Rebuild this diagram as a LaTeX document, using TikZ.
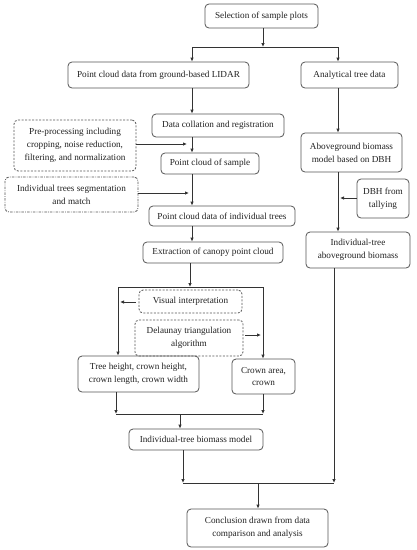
\documentclass[tikz,border=0pt]{standalone}
\usepackage{fontspec}
\setmainfont{Liberation Serif}
\usetikzlibrary{arrows.meta}
\definecolor{linec}{HTML}{333333}
\definecolor{boxc}{HTML}{555555}
\definecolor{txtc}{HTML}{222222}
\begin{document}
\begin{tikzpicture}[x=1pt,y=-1pt,
  box/.style={draw=boxc, line width=0.8pt, rounded corners=4pt, align=center, inner sep=1pt, text=txtc,
    font=\fontsize{9.2}{12.8}\selectfont},
  dbox/.style={box, dash pattern=on 2pt off 1.5pt},
  ddbox/.style={box, dash pattern=on 2.5pt off 1.2pt on 0.8pt off 1.2pt},
  ln/.style={draw=linec, line width=0.8pt},
  arr/.style={ln, -{Latex[length=4pt,width=3.5pt]}}]
\path[fill=white] (0,0) rectangle (416,550);
\useasboundingbox (0,0) rectangle (416,550);

\node[box, minimum width=113pt, minimum height=24pt] (sel) at (261.5,16) {Selection of sample plots};
\node[box, minimum width=181pt, minimum height=26pt] (lidar) at (158.5,75) {Point cloud data from ground-based LIDAR};
\node[box, minimum width=97pt, minimum height=26pt] (anal) at (349.5,75) {Analytical tree data};
\node[box, minimum width=132pt, minimum height=23pt] (coll) at (218,125.5) {Data collation and registration};
\node[dbox, minimum width=122pt, minimum height=51pt] (pre) at (75,145.5) {Pre-processing including\\cropping, noise reduction,\\filtering, and normalization};
\node[box, minimum width=98pt, minimum height=21pt] (pcs) at (210,163.5) {Point cloud of sample};
\node[box, minimum width=101pt, minimum height=39pt] (agb) at (351.5,152.5) {Aboveground biomass\\model based on DBH};
\node[ddbox, minimum width=133pt, minimum height=35pt] (seg) at (71.5,194.5) {Individual trees segmentation\\and match};
\node[box, minimum width=146pt, minimum height=20pt] (pcdi) at (222,216) {Point cloud data of individual trees};
\node[box, minimum width=52pt, minimum height=39pt] (dbh) at (383,198.5) {DBH from\\tallying};
\node[box, minimum width=104pt, minimum height=36pt] (iagb) at (358,250) {Individual-tree\\aboveground biomass};
\node[box, minimum width=140pt, minimum height=21pt] (ext) at (213,252.5) {Extraction of canopy point cloud};
\node[dbox, minimum width=103pt, minimum height=23pt] (vis) at (190.5,301.5) {Visual interpretation};
\node[dbox, minimum width=108pt, minimum height=36pt] (del) at (189,338) {Delaunay triangulation\\algorithm};
\node[box, minimum width=121pt, minimum height=36pt] (th) at (138.5,374) {Tree height, crown height,\\crown length, crown width};
\node[box, minimum width=63pt, minimum height=35pt] (ca) at (263.5,376.5) {Crown area,\\crown};
\node[box, minimum width=134pt, minimum height=21pt] (ibm) at (196,439.5) {Individual-tree biomass model};
\node[box, minimum width=141pt, minimum height=38pt] (conc) at (257.5,528) {Conclusion drawn from data\\comparison and analysis};

% junction coordinates
\coordinate (j1) at (263,47);
\coordinate (jL) at (192,47);
\coordinate (jR) at (338,47);
\coordinate (a1) at (187,144);
\coordinate (a2) at (189,193);
\coordinate (a3) at (340,198);
\coordinate (e1) at (190,287);
\coordinate (hL) at (118,287);
\coordinate (hR) at (263,287);
\coordinate (a4) at (120,302);
\coordinate (a5) at (261,335);
\coordinate (bL) at (116,414);
\coordinate (bR) at (263,414);
\coordinate (bM) at (180,414);
\coordinate (cL) at (183,483);
\coordinate (cR) at (334,483);
\coordinate (cM) at (258,483);

\draw[arr] (j1 |- sel.south) -- (j1);
\draw[ln] (jL) -- (jR);
\draw[arr] (jL) -- (jL |- lidar.north);
\draw[arr] (jR) -- (jR |- anal.north);
\draw[arr] (jL |- lidar.south) -- (jL |- coll.north);
\draw[arr] (jL |- coll.south) -- (jL |- pcs.north);
\draw[arr] (pre.east |- a1) -- (a1);
\draw[arr] (jL |- pcs.south) -- (jL |- pcdi.north);
\draw[arr] (seg.east |- a2) -- (a2);
\draw[arr] (jL |- pcdi.south) -- (jL |- ext.north);
\draw[arr] (jR |- anal.south) -- (jR |- agb.north);
\draw[arr] (jR |- agb.south) -- (jR |- iagb.north);
\draw[arr] (dbh.west |- a3) -- (a3);

\draw[arr] (e1 |- ext.south) -- (e1);
\draw[ln] (hL) -- (hR);
\draw[arr] (hL) -- (hL |- th.north);
\draw[arr] (hR) -- (hR |- ca.north);
\draw[arr] ([xshift=-3pt]vis.west |- a4) -- (a4);
\draw[arr] ([xshift=2pt]del.east |- a5) -- (a5);

\draw[arr] (bL |- th.south) -- (bL);
\draw[arr] (bR |- ca.south) -- (bR);
\draw[ln] (bL) -- (bR);
\draw[arr] (bM) -- (bM |- ibm.north);

\draw[arr] (cL |- ibm.south) -- (cL);
\draw[arr] (cR |- iagb.south) -- (cR);
\draw[ln] (cL) -- (cR);
\draw[arr] (cM) -- (cM |- conc.north);
\end{tikzpicture}
\end{document}
